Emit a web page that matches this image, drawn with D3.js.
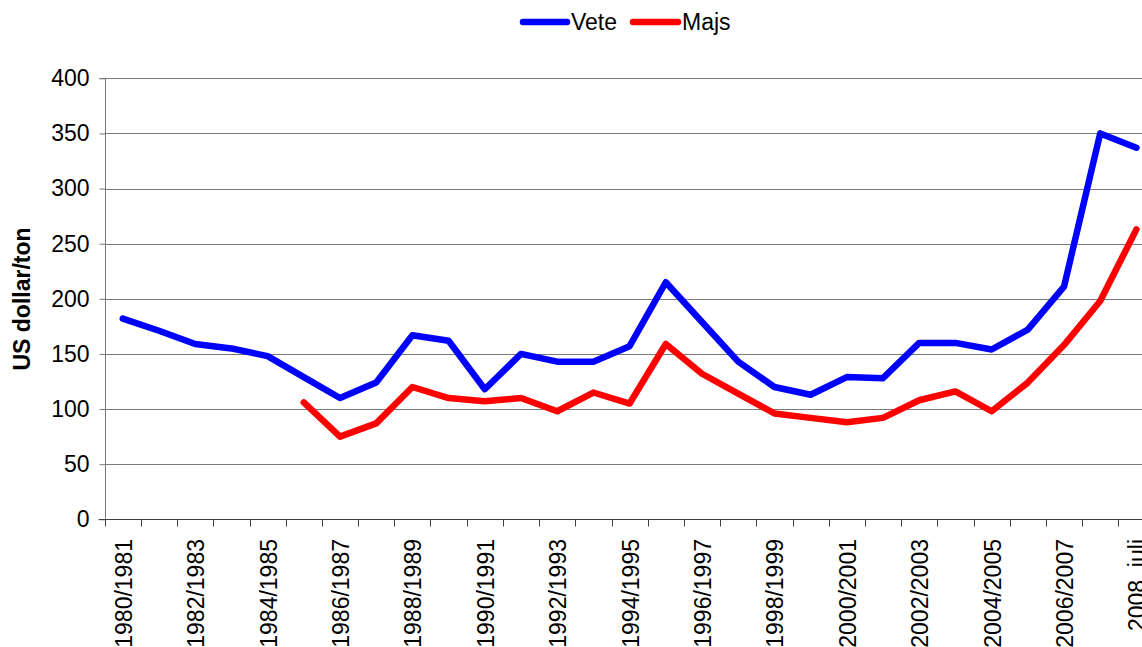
<!DOCTYPE html>
<html>
<head>
<meta charset="utf-8">
<script src="https://cdn.jsdelivr.net/npm/d3@7"></script>
<style>
html,body{margin:0;padding:0;background:#fff;overflow:hidden;}
svg{display:block;font-family:"Liberation Sans",Arial,sans-serif;}
</style>
</head>
<body>
<svg id="chart" width="1142" height="647"></svg>
<script>
const categories = ["1980/1981","1981/1982","1982/1983","1983/1984","1984/1985","1985/1986","1986/1987","1987/1988","1988/1989","1989/1990","1990/1991","1991/1992","1992/1993","1993/1994","1994/1995","1995/1996","1996/1997","1997/1998","1998/1999","1999/2000","2000/2001","2001/2002","2002/2003","2003/2004","2004/2005","2005/2006","2006/2007","2007/2008","2008, juli"];
const vete = [182,171,159,155,148,129,110,124,167,162,118,150,143,143,157,215,179,143,120,113,129,128,160,160,154,172,211,350,337];
const majs = [null,null,null,null,null,106,75,87,120,110,107,110,98,115,105,159,132,114,96,92,88,92,108,116,98,124,158,198,263];
const yTicks = [0,50,100,150,200,250,300,350,400];
const seriesNames = ["Vete","Majs"];
const seriesColors = ["#0000FF","#FF0000"];

(function(){
const svg = d3.select("#chart");
const pLeft = 104.7, pRight = 1154.5, pTop = 78.3, pBottom = 519.3;

const x = d3.scaleBand().domain(categories).range([pLeft, pRight]).paddingInner(0).paddingOuter(0);
const y = d3.scaleLinear().domain([0,400]).range([pBottom, pTop]);

// gridlines
svg.append("g").selectAll("line").data(yTicks.filter(d=>d>0)).join("line")
  .attr("x1", pLeft).attr("x2", pRight)
  .attr("y1", d=>Math.round(y(d))+0.5).attr("y2", d=>Math.round(y(d))+0.5)
  .attr("stroke", "#7a7a7a").attr("stroke-width", 1);

// y axis
const yAxis = d3.axisLeft(y).tickValues(yTicks).tickSize(6).tickPadding(10);
const gy = svg.append("g").attr("transform", `translate(${Math.round(pLeft)+0.5},0)`).call(yAxis);
gy.select(".domain").attr("stroke", "#7a7a7a").attr("d", `M-6,${Math.round(pTop)+0.5}H0V${Math.round(pBottom)+0.5}`);
gy.selectAll(".tick line").attr("stroke", "#7a7a7a");
gy.selectAll(".tick text").attr("font-size", "23px").attr("fill", "#000")
  .attr("font-family", "Liberation Sans, Arial, sans-serif");

// x axis
const xAxis = d3.axisBottom(x).tickSize(0).tickFormat("");
const gx = svg.append("g").attr("transform", `translate(0,${Math.round(pBottom)+0.5})`).call(xAxis);
gx.select(".domain").attr("stroke", "#404040").attr("d", `M${pLeft-6},0H${pRight}`);
const bounds = categories.map(c => x(c));
gx.append("g").selectAll("line").data(bounds).join("line")
  .attr("x1", d=>Math.round(d)+0.5).attr("x2", d=>Math.round(d)+0.5)
  .attr("y1", 0).attr("y2", 7).attr("stroke", "#404040").attr("stroke-width", 1);
svg.append("g").selectAll("text").data(categories.filter((d,i)=>i%2===0)).join("text")
  .attr("transform", d => `translate(${x(d)+x.bandwidth()/2+1},539) rotate(-90)`)
  .attr("text-anchor", "end").attr("dy", "0.35em")
  .attr("font-size", "23px").attr("fill", "#000")
  .text(d => d);

// y axis title
svg.append("text").attr("transform", "translate(22,299) rotate(-90)")
  .attr("text-anchor", "middle").attr("dy", "0.35em")
  .attr("font-size", "23px").attr("font-weight", "bold").attr("fill", "#000")
  .text("US dollar/ton");

// lines
const line = d3.line()
  .defined(d => d.v !== null)
  .x(d => x(d.c) + x.bandwidth()/2)
  .y(d => y(d.v));
[vete, majs].forEach((vals, si) => {
  const data = categories.map((c,i)=>({c, v: vals[i]}));
  svg.append("path").datum(data)
    .attr("d", line).attr("fill", "none")
    .attr("stroke", seriesColors[si]).attr("stroke-width", 6.5)
    .attr("stroke-linejoin", "round").attr("stroke-linecap", "round");
});

// legend
const legendItems = [{x1:523,x2:567,tx:571},{x1:633,x2:678,tx:682}];
const lg = svg.append("g");
seriesNames.forEach((n,i)=>{
  const it = legendItems[i];
  lg.append("line").attr("x1", it.x1).attr("x2", it.x2).attr("y1", 22).attr("y2", 22)
    .attr("stroke", seriesColors[i]).attr("stroke-width", 6.5).attr("stroke-linecap", "round");
  lg.append("text").attr("x", it.tx).attr("y", 22).attr("dy", "0.35em")
    .attr("font-size", "23px").attr("fill", "#000").text(n);
});
})();
</script>
</body>
</html>
